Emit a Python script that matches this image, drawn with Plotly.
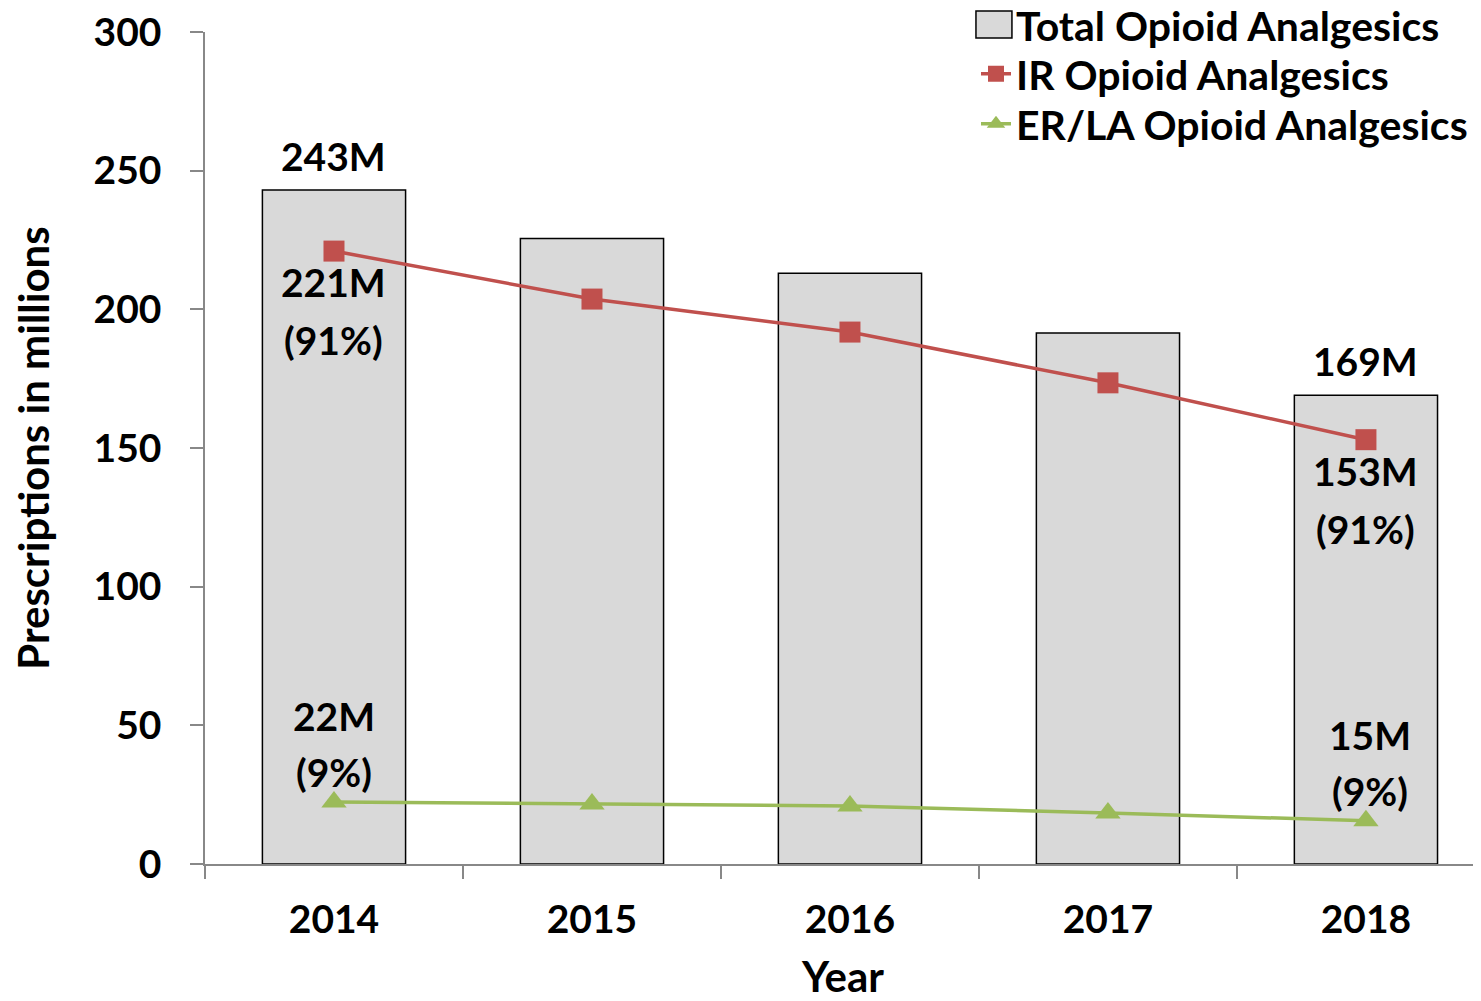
import plotly.graph_objects as go

# NOTE: values (millions of prescriptions)
years = ["2014", "2015", "2016", "2017", "2018"]
total = [243, 225.5, 213, 191.5, 169]
ir = [221, 203.7, 191.8, 173.5, 153]
er = [22.4, 21.6, 20.9, 18.4, 15.6]
y_ticks = [0, 50, 100, 150, 200, 250, 300]

total_labels = ["243M", "", "", "", "169M"]
ir_labels = ["221M", "", "", "", "153M"]
er_labels = ["22M", "", "", "", "15M"]
share_ir = ["(91%)", "", "", "", "(91%)"]
share_er = ["(9%)", "", "", "", "(9%)"]

FONT = "Lato"
FS = 39
W, H = 1473, 993  # page body has an 8px margin, so keep inside the window

fig = go.Figure()

fig.add_trace(go.Bar(x=years, y=total, name="Total Opioid Analgesics",
                     width=0.555, showlegend=False,
                     marker=dict(color="#d9d9d9",
                                 line=dict(color="#000000", width=1.5))))

# NOTE: legend-only entry for the bars, the big box is drawn as a shape
fig.add_trace(go.Scatter(x=[None], y=[None], name="Total Opioid Analgesics",
                         mode="markers", legend="legend",
                         marker=dict(color="rgba(0,0,0,0)", size=1,
                                     line=dict(width=0))))

fig.add_trace(go.Scatter(x=years, y=ir, name="IR Opioid Analgesics",
                         mode="lines+markers", legend="legend2",
                         line=dict(color="#c0504d", width=3.5),
                         marker=dict(symbol="square", size=21,
                                     color="#c0504d")))

fig.add_trace(go.Scatter(x=years, y=er, name="ER/LA Opioid Analgesics",
                         mode="lines+markers", legend="legend3",
                         line=dict(color="#9bbb59", width=3.5),
                         marker=dict(symbol="triangle-up", size=22,
                                     color="#9bbb59")))

# NOTE: data labels, x given as category index so "2014" isn't read as a number
ann_font = dict(family=FONT, size=FS, color="black", weight="bold")
for i, yr in enumerate(years):
    if total_labels[i]:
        fig.add_annotation(x=i, y=total[i], text=total_labels[i],
                           showarrow=False, yanchor="middle", yshift=34,
                           font=ann_font)
    if ir_labels[i]:
        fig.add_annotation(x=i, y=ir[i], text=ir_labels[i],
                           showarrow=False, yanchor="middle", yshift=-31,
                           font=ann_font)
        fig.add_annotation(x=i, y=ir[i], text=share_ir[i],
                           showarrow=False, yanchor="middle", yshift=-89,
                           font=ann_font)
    if er_labels[i]:
        fig.add_annotation(x=i, y=er[i], text=er_labels[i],
                           showarrow=False, yanchor="middle", yshift=86,
                           xshift=4 * (i == 4), font=ann_font)
        fig.add_annotation(x=i, y=er[i], text=share_er[i],
                           showarrow=False, yanchor="middle", yshift=30,
                           xshift=4 * (i == 4), font=ann_font)

# NOTE: the legend box for the bar entry
fig.add_shape(type="rect", xref="paper", yref="paper",
              x0=0.6042, x1=0.6324, y0=0.9928, y1=1.0252,
              fillcolor="#d9d9d9", line=dict(color="black", width=1.5))

leg_font = dict(family=FONT, size=41, color="black", weight="bold")
leg_x = 968 / W
legends = {}
for name, ypix in [("legend", 17), ("legend2", 66), ("legend3", 116)]:
    legends[name] = dict(x=leg_x, xanchor="left", xref="container",
                         y=1 - ypix / H, yanchor="middle", yref="container",
                         bgcolor="rgba(0,0,0,0)", font=leg_font,
                         itemwidth=30)

# NOTE: axis titles inherit the layout font (35, bold), tick labels get 39
fig.update_layout(width=W, height=H,
                  margin=dict(l=197, r=0, t=24, b=137, autoexpand=False),
                  plot_bgcolor="white", paper_bgcolor="white",
                  font=dict(family=FONT, size=35, color="black",
                            weight="bold"),
                  showlegend=True, **legends)

tick_font = dict(family=FONT, size=FS, color="black", weight="bold")

fig.update_xaxes(type="category", range=[-0.5, 4.446],
                 showline=True, linecolor="#888888", linewidth=1.5,
                 ticks="outside", tickson="boundaries", ticklen=13,
                 tickcolor="#888888", tickwidth=1.5, tickfont=tick_font,
                 ticklabelstandoff=20, showgrid=False,
                 title=dict(text="Year", standoff=32))

fig.update_yaxes(range=[0, 300], tickmode="array", tickvals=y_ticks,
                 showline=True, linecolor="#888888", linewidth=1.5,
                 ticks="outside", ticklen=13, tickcolor="#888888",
                 tickwidth=1.5, tickfont=tick_font,
                 ticklabelstandoff=21, ticklabeloverflow="allow",
                 showgrid=False, zeroline=False,
                 title=dict(text="Prescriptions in millions", standoff=36))

fig.write_html("out.html")
